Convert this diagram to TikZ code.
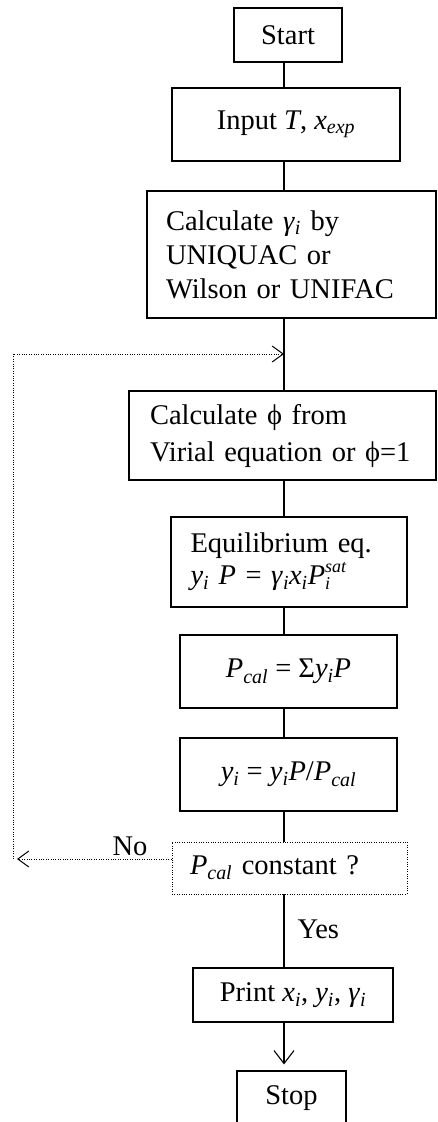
\documentclass[tikz,border=0pt]{standalone}
\usepackage{fontspec}
\setmainfont{Liberation Serif}
\usetikzlibrary{arrows.meta,calc}
\newcommand{\iv}[1]{\textit{#1}}
\newcommand{\sbi}[1]{\textsubscript{\textit{#1}}}
\newcommand{\smallit}[1]{{\fontsize{18}{18}\selectfont\textit{#1}}}
\begin{document}
\begin{tikzpicture}[x=1pt,y=-1pt,
  every node/.style={font=\fontsize{28.5}{34}\selectfont},
  box/.style={draw,line width=1.1pt,inner sep=0pt},
  dbox/.style={draw,line width=0.9pt,dash pattern=on 1pt off 1.4pt,inner sep=0pt},
  flow/.style={line width=1.1pt},
  loopline/.style={line width=0.9pt,dash pattern=on 1pt off 1.4pt},
  tipd/.style={-{Straight Barb[length=13pt,width=20pt,line width=1.1pt]}},
  tipl/.style={-{Straight Barb[length=11pt,width=16pt,line width=1pt]}},
]
\useasboundingbox (0,0) rectangle (437,1122);
\clip (0,0) rectangle (437,1122);

\node[box,minimum width=108pt,minimum height=54pt] (start) at (288,35) {Start};
\node[box,minimum width=228pt,minimum height=73pt] (input) at (286,124.5) {Input \iv{T}, \iv{x}\sbi{exp}};
\node[box,minimum width=289pt,minimum height=127pt,text width=251pt,align=left] (gam) at (291.5,254.5)
  {\mbox{Calculate \iv{γ}\sbi{i} by}\\\mbox{UNIQUAC or}\\\mbox{Wilson or UNIFAC}};
\node[box,minimum width=307pt,minimum height=89pt,text width=265pt,align=left,font=\fontsize{28.5}{37}\selectfont] (phi) at (282.5,435.5)
  {\mbox{Calculate ϕ from}\\\mbox{Virial equation or ϕ=1}};
\node[box,minimum width=236pt,minimum height=90pt,text width=197pt,align=left,font=\fontsize{28.5}{32}\selectfont] (eq) at (289,562)
  {\mbox{Equilibrium eq.}\\\mbox{\iv{y}\sbi{i} \iv{P} = \iv{γ}\sbi{i}\iv{x}\sbi{i}\iv{P}\rlap{\raisebox{-0.17em}{\smallit{i}}}\raisebox{0.42em}{\smallit{sat}}}};
\node[box,minimum width=217pt,minimum height=73pt] (pcal) at (288.5,671.5) {\iv{P}\sbi{cal} = Σ\iv{y}\sbi{i}\iv{P}};
\node[box,minimum width=217pt,minimum height=73pt] (yi) at (288.5,774.5) {\iv{y}\sbi{i} = \iv{y}\sbi{i}\iv{P}/\iv{P}\sbi{cal}};
\node[dbox,minimum width=235pt,minimum height=52pt,text width=199pt,align=left] (pc) at (289.5,868) {\mbox{\iv{P}\sbi{cal} constant ?}};
\node[box,minimum width=200pt,minimum height=54pt] (print) at (293,995) {Print \iv{x}\sbi{i}, \iv{y}\sbi{i}, \iv{γ}\sbi{i}};
\node[box,minimum width=109pt,minimum height=54pt] (stop) at (291.5,1098) {Stop};

\coordinate (tr) at (284,0);
\coordinate (noend) at (17,859);
\coordinate (lb) at (13,859);
\coordinate (lt) at (13,354);
\coordinate (join) at (284,354);

\draw[flow] (start.south -| tr) -- (input.north -| tr);
\draw[flow] (input.south -| tr) -- (gam.north -| tr);
\draw[flow] (gam.south -| tr) -- (phi.north -| tr);
\draw[flow] (phi.south -| tr) -- (eq.north -| tr);
\draw[flow] (eq.south -| tr) -- (pcal.north -| tr);
\draw[flow] (pcal.south -| tr) -- (yi.north -| tr);
\draw[flow] (yi.south -| tr) -- (pc.north -| tr);
\draw[flow] (pc.south -| tr) -- node[anchor=west,inner sep=0pt,xshift=13pt,yshift=2pt] (yes) {Yes} (print.north -| tr);
\draw[flow,tipd,shorten >=6pt] (print.south -| tr) -- (stop.north -| tr);

\draw[loopline,tipl] (pc.west |- noend) -- (noend);
\draw[loopline,tipl] (lb) -- (lt) -- (join);
\node[inner sep=0pt] (no) at (130,846) {No};
\end{tikzpicture}
\end{document}
